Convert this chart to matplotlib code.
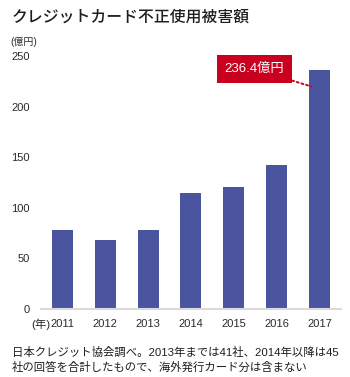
import matplotlib

matplotlib.use("Agg")
import matplotlib.pyplot as plt  # noqa: E402

# 数字は Liberation Sans、和文は Noto Sans CJK JP にフォールバック
FONTES = ["Liberation Sans", "Noto Sans CJK JP", "DejaVu Sans"]
plt.rcParams["font.family"] = FONTES

# 年別の被害額（億円）
anos = ["2011", "2012", "2013", "2014", "2015", "2016", "2017"]
valores = [78.1, 68.1, 78.2, 114.5, 120.9, 142.0, 236.4]
yticks = [0, 50, 100, 150, 200, 250]

AZUL = "#4a549f"
VERMELHO = "#c9001f"
TEXTO = "#1e1e1e"

fig = plt.figure(figsize=(3.5, 3.77), dpi=100)
ax = fig.add_axes([41 / 350, 68 / 377, 300 / 350, 253 / 377])

x = range(len(anos))
ax.bar(x, valores, width=0.49, color=AZUL, zorder=2)

ax.set_xlim(-0.5, 6.5)
ax.set_ylim(0, 250)
ax.set_yticks(yticks)
ax.set_xticks(list(x))
ax.set_xticklabels(anos)
ax.tick_params(axis="both", length=0, labelsize=8, colors="#2a2a2a")
ax.tick_params(axis="y", pad=8)
ax.tick_params(axis="x", pad=7)
for s in ["top", "right", "left"]:
    ax.spines[s].set_visible(False)
ax.spines["bottom"].set_color("#dadada")
ax.spines["bottom"].set_linewidth(1.5)

# 2017年の値を赤いボックスで強調
ax.annotate(
    f"{valores[-1]}億円",
    xy=(5.8, 220), xytext=(4.48, 237),
    ha="center", va="center", fontsize=9.5, color="white",
    bbox=dict(boxstyle="square,pad=0.6", fc=VERMELHO, ec="none"),
    arrowprops=dict(arrowstyle="-", color=VERMELHO, linestyle=(0, (1, 1.5)),
                    linewidth=1.4, shrinkA=0, shrinkB=0),
)

fig.text(12 / 350, 1 - 17 / 377, "クレジットカード不正使用被害額",
         family=["Noto Sans CJK JP"], fontsize=11.4, fontweight="medium",
         color=TEXTO, va="center", ha="left")
fig.text(10 / 350, 1 - 42 / 377, "(億円)", fontsize=7.2, color="#2a2a2a",
         va="center", ha="left")
fig.text(31 / 350, 1 - 324 / 377, "(年)", fontsize=8.2, color="#2a2a2a",
         va="center", ha="left")
fig.text(12 / 350, 1 - 360 / 377,
         "日本クレジット協会調べ。2013年までは41社、2014年以降は45\n"
         "社の回答を合計したもので、海外発行カード分は含まない",
         fontsize=8.2, color=TEXTO, va="center", ha="left", linespacing=1.4)

fig.savefig("out.png", dpi=100)
